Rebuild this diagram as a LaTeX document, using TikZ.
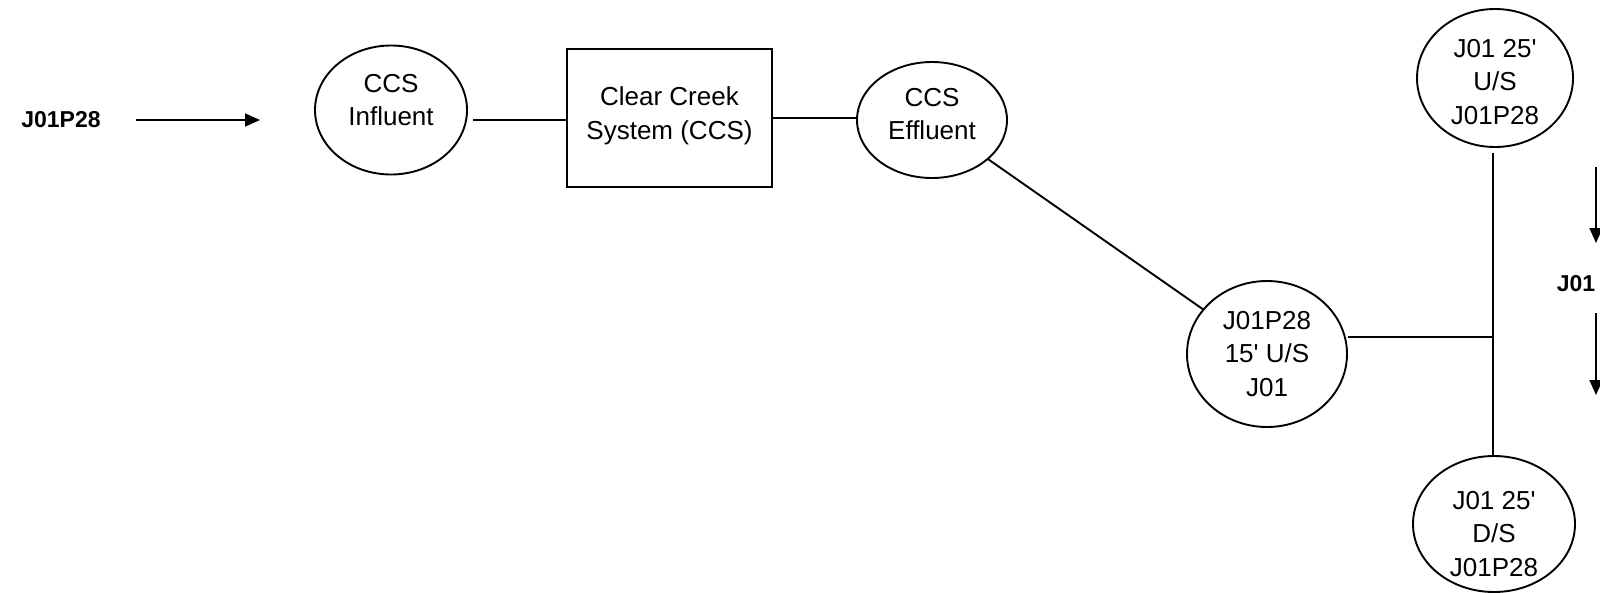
\documentclass[tikz,border=0pt]{standalone}
\usepackage{fontspec}
\setmainfont{Liberation Sans}
\usetikzlibrary{shapes.geometric,arrows.meta}
\newcommand{\ap}{\textquotesingle}
\begin{document}
\begin{tikzpicture}[x=1pt,y=-1pt,
  every node/.style={inner sep=0pt},
  txt/.style={font=\fontsize{26}{33.6}\selectfont, align=center},
  oval/.style={ellipse, draw, line width=1.9pt},
  blk/.style={rectangle, draw, line width=1.9pt},
  lbl/.style={font=\fontsize{23}{28}\selectfont\bfseries},
  conn/.style={line width=1.9pt},
  arr/.style={line width=1.9pt, -{Triangle[length=15pt,width=13pt]}}
]
\useasboundingbox (0,0) rectangle (1600,592);
\node[lbl] (src) at (61,120) {J01P28};
\coordinate (a1) at (136,120);
\coordinate (a2) at (260,120);
\draw[arr] (a1) -- (a2);
\node[oval, minimum width=152pt, minimum height=129pt] (inf) at (391,110) {};
\node[txt] (inft) at (391,100) {CCS\\Influent};
\node[blk, minimum width=205pt, minimum height=138pt] (box) at (669.5,118) {};
\node[txt] (boxt) at (669.5,116) {Clear Creek\\System (CCS)};
\node[oval, minimum width=150pt, minimum height=116pt] (eff) at (932,120) {};
\node[txt] (efft) at (932,114) {CCS\\Effluent};
\node[oval, minimum width=160pt, minimum height=146pt] (mid) at (1267,354) {};
\node[txt] (midt) at (1267,354) {J01P28\\15\ap{} U/S\\J01};
\node[oval, minimum width=156pt, minimum height=138pt] (top) at (1495,78) {};
\node[txt] (topt) at (1495,82) {J01 25\ap\\U/S\\J01P28};
\node[oval, minimum width=162pt, minimum height=136pt] (bot) at (1494,524) {};
\node[txt] (bott) at (1494,534) {J01 25\ap\\D/S\\J01P28};
\coordinate (c1) at (473,120);
\coordinate (j) at (1493,337);
\coordinate (vt) at (1493,153);
\coordinate (vb) at (1493,456);
\draw[conn] (c1) -- (c1 -| box.west);
\draw[conn] (box.east) -- (box.east -| eff.west);
\draw[conn] (eff) -- (mid);
\draw[conn] (j -| mid.east) -- (j);
\draw[conn] (vt) -- (vb);
\node[lbl] (j01) at (1576,284) {J01};
\coordinate (r1) at (1596,167);
\coordinate (r2) at (1596,243);
\coordinate (r3) at (1596,313);
\coordinate (r4) at (1596,395);
\draw[arr] (r1) -- (r2);
\draw[arr] (r3) -- (r4);
\end{tikzpicture}
\end{document}
